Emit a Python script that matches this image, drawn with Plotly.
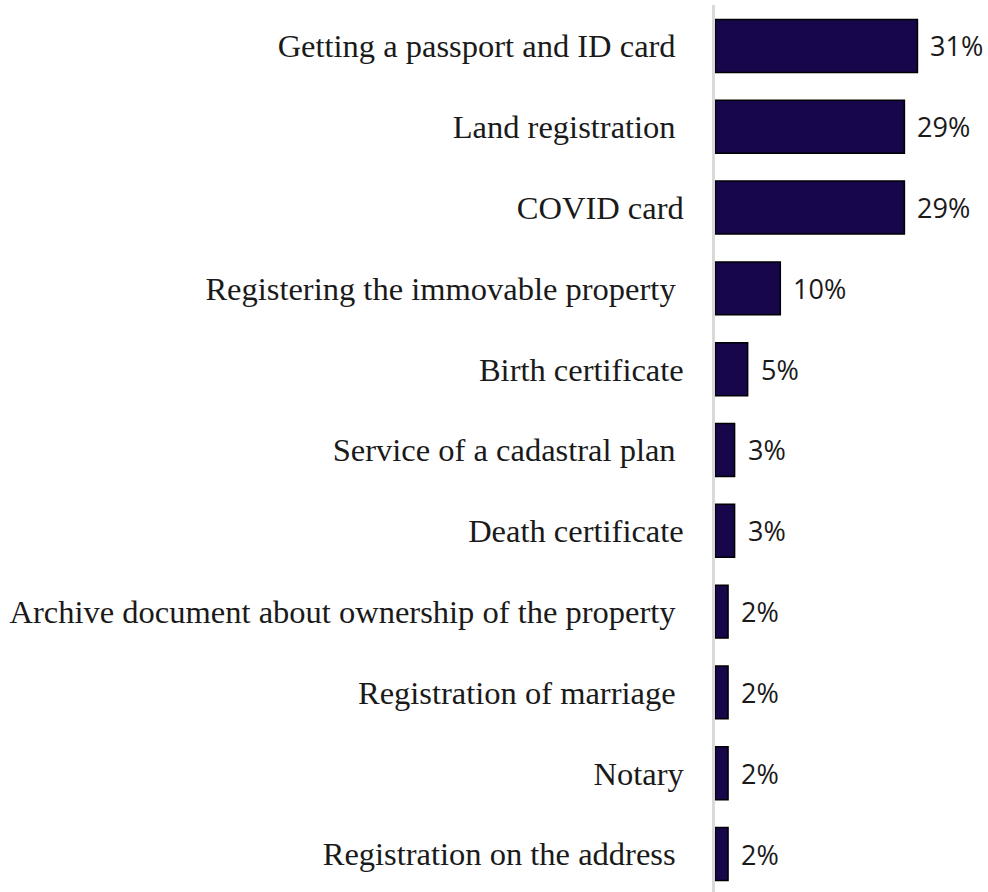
import plotly.graph_objects as go

# Services and share of respondents (%), top to bottom
services = [
    "Getting a passport and ID card ",
    "Land registration ",
    "COVID card",
    "Registering the immovable property ",
    "Birth certificate",
    "Service of a cadastral plan ",
    "Death certificate",
    "Archive document about ownership of the property ",
    "Registration of marriage ",
    "Notary",
    "Registration on the address ",
]
shares = [31, 29, 29, 10, 5, 3, 3, 2, 2, 2, 2]
value_labels = [f"{v}%" for v in shares]

BAR_FILL = "#17064a"
LABEL_FONT = dict(family="Liberation Serif", size=32.5, color="#1a1a1a")
VALUE_FONT = dict(family="Open Sans", size=27, color="#1a1a1a")

# keep trailing spaces visible in tick labels
tick_text = [s.rstrip() + ("\u00a0" if s.endswith(" ") else "") for s in services]

fig = go.Figure(
    go.Bar(
        y=services,
        x=shares,
        orientation="h",
        width=0.655,
        marker=dict(color=BAR_FILL, line=dict(color="#000000", width=1.5)),
        hoverinfo="skip",
    )
)

for name, v, lab in zip(services, shares, value_labels):
    fig.add_annotation(
        x=v, y=name, text=lab, showarrow=False,
        xanchor="left", yanchor="middle", xshift=11,
        font=VALUE_FONT,
    )

fig.update_layout(
    width=988, height=892,
    margin=dict(l=715, r=0, t=5, b=0),
    paper_bgcolor="white", plot_bgcolor="white",
    showlegend=False,
)
fig.update_xaxes(range=[0, 41.8], visible=False, showgrid=False, zeroline=False)
fig.update_yaxes(
    type="category",
    categoryorder="array", categoryarray=services,
    tickmode="array", tickvals=services, ticktext=tick_text,
    range=[10.47, -0.507],
    showline=True, linecolor="#d9d9d9", linewidth=2.5,
    ticks="", ticklabelstandoff=22,
    tickfont=LABEL_FONT, showgrid=False, zeroline=False,
)

fig.write_html("out.html")
